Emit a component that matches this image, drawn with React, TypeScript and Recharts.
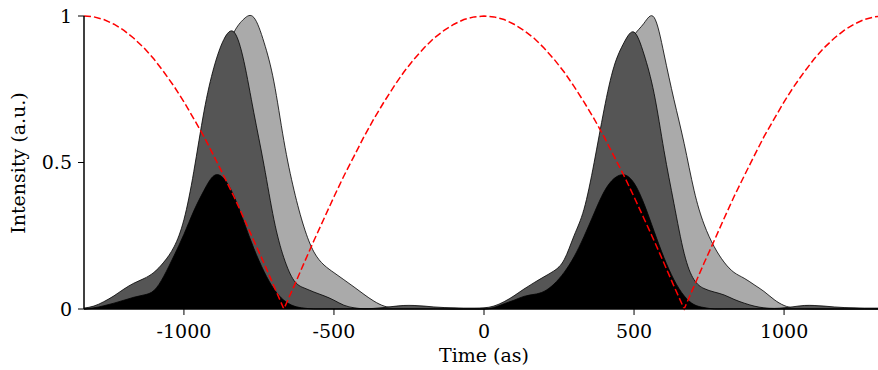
import { ComposedChart, Area, Line, XAxis, YAxis } from "recharts";

// time grid (as), one sample every ~33 as
const times = [
  -1333, -1300, -1267, -1233, -1200, -1167, -1133, -1100, -1067, -1033,
  -1000, -967, -933, -900, -867, -833, -800, -767, -733, -700,
  -667, -633, -600, -567, -533, -500, -467, -433, -400, -367,
  -333, -300, -267, -233, -200, -167, -133, -100, -67, -33,
  0, 33, 67, 100, 133, 167, 200, 233, 267, 300,
  333, 367, 400, 433, 467, 500, 533, 567, 600, 633,
  667, 700, 733, 767, 800, 833, 867, 900, 933, 967,
  1000, 1033, 1067, 1100, 1133, 1167, 1200, 1233, 1267, 1300,
  1333,
];

const lightPulse = [
  0, 0.002, 0.004, 0.008, 0.015, 0.025, 0.037, 0.055, 0.08, 0.115,
  0.18, 0.3, 0.48, 0.69, 0.85, 0.945, 0.99, 0.995, 0.91, 0.775,
  0.575, 0.405, 0.28, 0.195, 0.15, 0.124, 0.1, 0.075, 0.05, 0.027,
  0.01, 0.004, 0.004, 0.004, 0.003, 0.002, 0.001, 0, 0, 0,
  0, 0.002, 0.005, 0.01, 0.02, 0.032, 0.048, 0.068, 0.098, 0.13,
  0.2, 0.32, 0.5, 0.7, 0.86, 0.935, 0.975, 0.995, 0.87, 0.715,
  0.565, 0.405, 0.29, 0.213, 0.16, 0.125, 0.105, 0.083, 0.06, 0.032,
  0.012, 0.003, 0.001, 0, 0, 0, 0, 0, 0, 0,
  0,
];

const darkPulse = [
  0.003, 0.01, 0.025, 0.045, 0.068, 0.088, 0.104, 0.125, 0.16, 0.212,
  0.305, 0.47, 0.675, 0.825, 0.92, 0.945, 0.845, 0.67, 0.49, 0.305,
  0.175, 0.097, 0.072, 0.058, 0.045, 0.03, 0.013, 0.004, 0.001, 0.002,
  0.005, 0.009, 0.012, 0.012, 0.01, 0.007, 0.005, 0.004, 0.003, 0.003,
  0.004, 0.01, 0.025, 0.045, 0.068, 0.09, 0.11, 0.13, 0.168, 0.25,
  0.34, 0.5, 0.68, 0.827, 0.91, 0.945, 0.87, 0.735, 0.54, 0.36,
  0.19, 0.1, 0.07, 0.058, 0.048, 0.033, 0.02, 0.01, 0.004, 0.002,
  0.004, 0.008, 0.012, 0.012, 0.01, 0.007, 0.005, 0.004, 0.003, 0.003,
  0.003,
];

const blackPulse = [
  0, 0.004, 0.011, 0.02, 0.03, 0.04, 0.048, 0.063, 0.112, 0.182,
  0.255, 0.335, 0.405, 0.455, 0.445, 0.385, 0.297, 0.207, 0.128, 0.068,
  0.03, 0.01, 0.003, 0, 0, 0, 0, 0, 0, 0,
  0, 0, 0, 0, 0, 0, 0, 0, 0, 0,
  0, 0.005, 0.018, 0.03, 0.043, 0.05, 0.06, 0.085, 0.125, 0.178,
  0.247, 0.327, 0.4, 0.445, 0.458, 0.43, 0.36, 0.265, 0.175, 0.1,
  0.045, 0.015, 0.005, 0, 0, 0, 0, 0, 0, 0,
  0, 0, 0, 0, 0, 0, 0, 0, 0, 0,
  0,
];

// dashed red field envelope
const carrier = [
  1.0, 0.997, 0.988, 0.972, 0.951, 0.924, 0.891, 0.853, 0.809, 0.76,
  0.707, 0.649, 0.588, 0.522, 0.454, 0.383, 0.309, 0.233, 0.156, 0.078,
  0, 0.078, 0.156, 0.233, 0.309, 0.383, 0.454, 0.522, 0.588, 0.649,
  0.707, 0.76, 0.809, 0.853, 0.891, 0.924, 0.951, 0.972, 0.988, 0.997,
  1.0, 0.997, 0.988, 0.972, 0.951, 0.924, 0.891, 0.853, 0.809, 0.76,
  0.707, 0.649, 0.588, 0.522, 0.454, 0.383, 0.309, 0.233, 0.156, 0.078,
  0, 0.078, 0.156, 0.233, 0.309, 0.383, 0.454, 0.522, 0.588, 0.649,
  0.707, 0.76, 0.809, 0.853, 0.891, 0.924, 0.951, 0.972, 0.988, 0.997,
  1.0,
];

const xTicks = [-1000, -500, 0, 500, 1000];
const yTicks = [0, 0.5, 1];

const data = times.map((t, i) => ({
  t,
  light: lightPulse[i],
  dark: darkPulse[i],
  black: blackPulse[i],
  carrier: carrier[i],
}));

const font = "'DejaVu Serif', serif";
const tickStyle = { fill: "#000", fontSize: 19, fontFamily: font };

function YLabel() {
  return (
    <text
      x={25}
      y={163}
      transform="rotate(-90, 25, 163)"
      textAnchor="middle"
      fontSize={19}
      fontFamily={font}
      fill="#000"
    >
      Intensity (a.u.)
    </text>
  );
}

function XLabel() {
  return (
    <text x={484} y={362} textAnchor="middle" fontSize={19} fontFamily={font} fill="#000">
      Time (as)
    </text>
  );
}

export default function App() {
  return (
    <div
      style={{
        position: "absolute",
        left: 0,
        top: 0,
        width: 878,
        height: 370,
        overflow: "hidden",
        background: "#fff",
      }}
    >
      <ComposedChart
        width={884}
        height={370}
        data={data}
        margin={{ top: 16, right: 0, bottom: 0, left: 0 }}
      >
        <XAxis
          type="number"
          dataKey="t"
          domain={[-1333, 1333]}
          ticks={xTicks}
          tickFormatter={(v) => `${v}`}
          height={61}
          tickSize={6}
          tickMargin={10}
          tick={tickStyle}
          axisLine={{ stroke: "#000", strokeWidth: 1.5 }}
          tickLine={{ stroke: "#000", strokeWidth: 1 }}
          label={<XLabel />}
        />
        <YAxis
          type="number"
          domain={[0, 1]}
          ticks={yTicks}
          tickFormatter={(v) => `${v}`}
          width={84}
          tickSize={6}
          tickMargin={6}
          tick={tickStyle}
          axisLine={{ stroke: "#000", strokeWidth: 1.5 }}
          tickLine={{ stroke: "#000", strokeWidth: 1 }}
          label={<YLabel />}
        />
        <Area
          type="natural"
          dataKey="light"
          fill="#aaaaaa"
          fillOpacity={1}
          stroke="#000"
          strokeWidth={0.8}
          dot={false}
          activeDot={false}
          isAnimationActive={false}
        />
        <Area
          type="natural"
          dataKey="dark"
          fill="#555555"
          fillOpacity={1}
          stroke="#000"
          strokeWidth={0.8}
          dot={false}
          activeDot={false}
          isAnimationActive={false}
        />
        <Area
          type="natural"
          dataKey="black"
          fill="#000000"
          fillOpacity={1}
          stroke="#000"
          strokeWidth={0.8}
          dot={false}
          activeDot={false}
          isAnimationActive={false}
        />
        <Line
          type="linear"
          dataKey="carrier"
          stroke="#ff0000"
          strokeWidth={1.5}
          strokeDasharray="7 3"
          dot={false}
          activeDot={false}
          isAnimationActive={false}
        />
      </ComposedChart>
    </div>
  );
}
